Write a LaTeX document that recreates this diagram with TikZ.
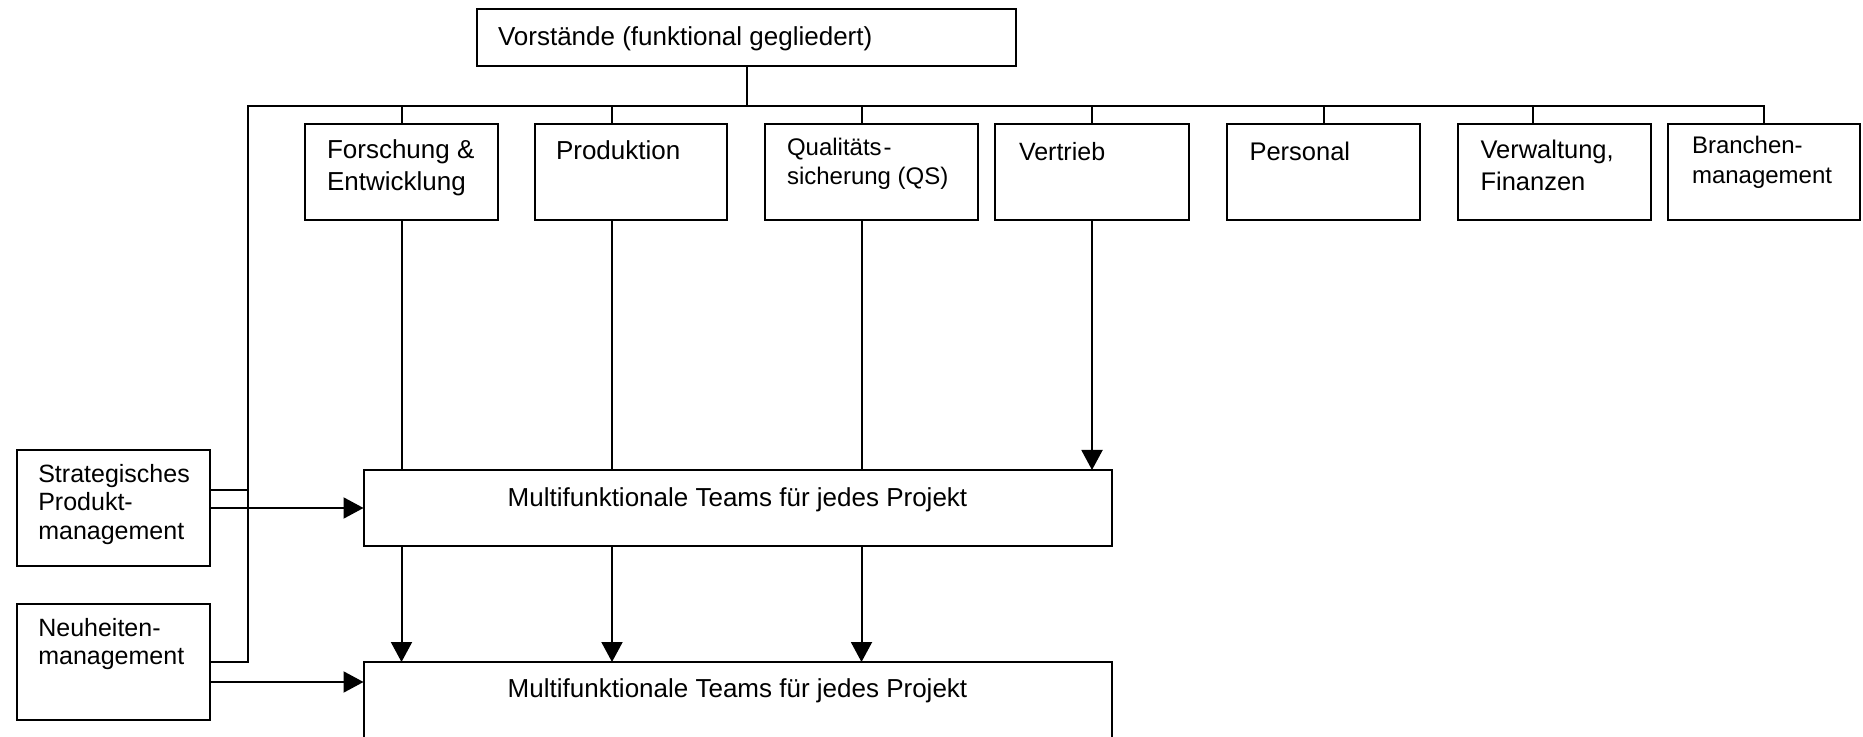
\documentclass[tikz,border=0pt]{standalone}
\usepackage{fontspec}
\setmainfont{Liberation Sans}
\usetikzlibrary{arrows.meta,calc}

% multi-line left-aligned label; its reference point is the first baseline
\newcommand\blines[3]{{\fontsize{#1}{#2}\selectfont\begin{tabular}[t]{@{}l@{}}#3\end{tabular}}}

\begin{document}
\begin{tikzpicture}[x=0.5pt,y=-0.5pt,
  box/.style={draw, line width=1pt, inner sep=0pt, outer sep=0pt, anchor=north west},
  lbl/.style={anchor=base west, inner sep=0pt, outer sep=0pt},
  wire/.style={line width=1pt},
  arr/.style={line width=1pt, -{Triangle[length=10pt,width=10.5pt]}}]
\useasboundingbox (0,0) rectangle (1863,737);
\clip (0,0) rectangle (1863,737);

% boxes
\node[box, minimum width=269.5pt, minimum height=28.25pt] (vor) at (477,9.5) {};
\node[box, minimum width=96.5pt,  minimum height=48pt] (fe)   at (305,124) {};
\node[box, minimum width=96pt,    minimum height=48pt] (prod) at (535,124) {};
\node[box, minimum width=106.5pt, minimum height=48pt] (qs)   at (765,124) {};
\node[box, minimum width=97pt,    minimum height=48pt] (ver)  at (995,124) {};
\node[box, minimum width=96.5pt,  minimum height=48pt] (pers) at (1227,124) {};
\node[box, minimum width=96.25pt, minimum height=48pt] (verw) at (1458,124) {};
\node[box, minimum width=96.25pt, minimum height=48pt] (bra)  at (1667.5,124) {};
\node[box, minimum width=374.25pt, minimum height=38pt] (t1) at (363.5,470) {};
\node[box, minimum width=374.25pt, minimum height=70pt] (t2) at (363.5,662) {};
\node[box, minimum width=96.5pt, minimum height=58pt] (spm) at (17,450) {};
\node[box, minimum width=96.5pt, minimum height=58pt] (nm)  at (17,604) {};

% texts
\node[lbl] (vort) at (498,45.5) {\blines{13pt}{15.6pt}{Vorstände (funktional gegliedert)}};
\node[lbl] (fet)   at (327,159)   {\blines{13pt}{15.75pt}{Forschung \&\\Entwicklung}};
\node[lbl] (prodt) at (556,159.5) {\blines{13pt}{15.75pt}{Produktion}};
\node[lbl] (qst)   at (787,156)   {\blines{12pt}{14.5pt}{Qualitäts\kern1pt-\\sicherung (QS)}};
\node[lbl] (vert)  at (1019,161)  {\blines{12.5pt}{15.75pt}{Vertrieb}};
\node[lbl] (perst) at (1249.5,161){\blines{12.75pt}{15.75pt}{Personal}};
\node[lbl] (verwt) at (1480.5,159){\blines{12.75pt}{16pt}{Verwaltung,\\Finanzen}};
\node[lbl] (brat)  at (1692,154)  {\blines{12pt}{15pt}{Branchen-\\management}};
\node[lbl] (spmt)  at (38.3,482.7){\blines{12.5pt}{14.15pt}{Strategisches\\Produkt-\\management}};
\node[lbl] (nmt)   at (38.3,636.7){\blines{12.5pt}{13.8pt}{Neuheiten-\\management}};
\node[anchor=base, inner sep=0pt] (t1t) at (737.5,506) {\fontsize{13pt}{15.6pt}\selectfont Multifunktionale Teams für jedes Projekt};
\node[anchor=base, inner sep=0pt] (t2t) at (737.5,697) {\fontsize{13pt}{15.6pt}\selectfont Multifunktionale Teams für jedes Projekt};

% column positions of the department lines
\coordinate (busL) at (247.5,106);
\coordinate (cfe)   at (fe.south);
\coordinate (cprod) at ([xshift=-9.5pt]prod.south);
\coordinate (cqs)   at ([xshift=-5pt]qs.south);
\coordinate (cver)  at (ver.south);
\coordinate (cverw) at ([xshift=-10.5pt]verw.south);

% board to bus
\draw[wire] (vor.south) -- (vor.south |- busL);
\draw[wire] (nm.east) -| (busL) -- (busL -| bra.north) -- (bra.north);
\draw[wire] ([yshift=9pt]spm.east) -- ([yshift=9pt]spm.east -| busL);

% bus to departments
\draw[wire] (fe.north |- busL) -- (fe.north);
\draw[wire] (cprod |- busL) -- (cprod |- prod.north);
\draw[wire] (cqs |- busL) -- (cqs |- qs.north);
\draw[wire] (ver.north |- busL) -- (ver.north);
\draw[wire] (pers.north |- busL) -- (pers.north);
\draw[wire] (cverw |- busL) -- (cverw |- verw.north);

% departments to first team
\draw[wire] (cfe) -- (cfe |- t1.north);
\draw[wire] (cprod) -- (cprod |- t1.north);
\draw[wire] (cqs) -- (cqs |- t1.north);
\draw[arr] (cver) -- (cver |- t1.north);

% first team to second team
\draw[arr] (cfe |- t1.south) -- (cfe |- t2.north);
\draw[arr] (cprod |- t1.south) -- (cprod |- t2.north);
\draw[arr] (cqs |- t1.south) -- (cqs |- t2.north);

% management boxes to teams
\draw[arr] (spm.east) -- (spm.east -| t1.west);
\draw[arr] ([yshift=-10pt]nm.east) -- ([yshift=-10pt]nm.east -| t2.west);
\end{tikzpicture}
\end{document}
